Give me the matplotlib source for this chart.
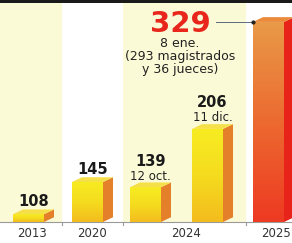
import numpy as np
import matplotlib
matplotlib.use("Agg")
import matplotlib.pyplot as plt
from matplotlib.patches import Polygon, Rectangle
from matplotlib.colors import LinearSegmentedColormap

# data
years = ["2013", "2020", "2024", "2024", "2025"]
values = [108, 145, 139, 206, 329]
notes = ["", "", "12 oct.", "11 dic.", ""]
note_2025 = "8 ene.\n(293 magistrados\ny 36 jueces)"

# layout (pixel-like x units)
bar_left = [13, 72, 130, 192, 253]
bar_w = 31
side_w = 10
rise = 5.5          # top-face rise in data units
base = 99
year_ticks = [32, 92, 186, 276]
year_labels = ["2013", "2020", "2024", "2025"]
bands = [(0, 62, "#fbfad6"), (62, 123, "#ffffff"), (123, 246, "#fbfad6"), (246, 292, "#ffffff")]

fig = plt.figure(figsize=(2.92, 2.43), dpi=100)
ax = fig.add_axes([0, 0, 1, 1])
ax.set_xlim(0, 292)
ax.set_ylim(74.9, 354.2)
ax.axis("off")

# background bands
for x0, x1, c in bands:
    ax.add_patch(Rectangle((x0, base), x1 - x0, 400, color=c, zorder=0, lw=0))
ax.add_patch(Rectangle((0, 350.8), 292, 10, color="#1a1a1a", zorder=5, lw=0))

# baseline + separator ticks
ax.plot([0, 292], [base, base], color="#9a9a9a", lw=0.8, zorder=1)
for x in [62, 123, 246]:
    ax.plot([x, x], [base, base - 3], color="#9a9a9a", lw=0.8, zorder=1)

yellow = LinearSegmentedColormap.from_list("y", ["#f7ec22", "#f5dc1e", "#f3bc1e"])
redc = LinearSegmentedColormap.from_list("r", ["#e99a48", "#ec6a30", "#ee3a22"])

for i, v in enumerate(values):
    x0 = bar_left[i]
    last = i == len(values) - 1
    front = ax.bar(x0, v - base, bottom=base, width=bar_w, align="edge",
                   color="none", lw=0, zorder=2)[0]
    grad = np.linspace(0, 1, 100).reshape(-1, 1)
    im = ax.imshow(grad, cmap=redc if last else yellow, aspect="auto",
                   extent=(x0, x0 + bar_w, base, v), origin="upper", zorder=2)
    im.set_clip_path(front)
    side_c = "#e8241a" if last else "#e4802a"
    top_c = "#ec8a3c" if last else "#f6e04a"
    ax.add_patch(Polygon([(x0 + bar_w, base), (x0 + bar_w + side_w, base + rise),
                          (x0 + bar_w + side_w, v + rise), (x0 + bar_w, v)],
                         closed=True, color=side_c, lw=0, zorder=2))
    ax.add_patch(Polygon([(x0, v), (x0 + bar_w, v), (x0 + bar_w + side_w, v + rise),
                          (x0 + side_w, v + rise)],
                         closed=True, color=top_c, lw=0, zorder=2))
    cx = x0 + bar_w / 2 + side_w / 2
    if last:
        continue
    if notes[i]:
        ax.annotate(notes[i], (cx, v), xytext=(0, 11), textcoords="offset pixels",
                    ha="center", va="center", fontsize=8.5, color="#222222")
        ax.annotate(str(v), (cx, v), xytext=(0, 26), textcoords="offset pixels",
                    ha="center", va="center", fontsize=10.5, fontweight="bold",
                    color="#1a1a1a")
    else:
        ax.annotate(str(v), (cx, v), xytext=(0, 13), textcoords="offset pixels",
                    ha="center", va="center", fontsize=10.5, fontweight="bold",
                    color="#1a1a1a")

# 2025 callout
v = values[-1]
ax.annotate(str(v), (180, v), xytext=(0, -2), textcoords="offset pixels",
            ha="center", va="center", fontsize=21, fontweight="heavy",
            color="#e8261c", zorder=3)
ax.plot([216, bar_left[-1]], [v, v], color="#5a6a80", lw=0.7, zorder=3)
ax.plot([bar_left[-1]], [v], "o", color="#222222", ms=2, zorder=3)
ax.annotate(note_2025, (180, v), xytext=(0, -35), textcoords="offset pixels",
            ha="center", va="center", fontsize=9, color="#222222",
            linespacing=1.0)

# year labels
for x, lab in zip(year_ticks, year_labels):
    ax.annotate(lab, (x, base), xytext=(0, -11), textcoords="offset pixels",
                ha="center", va="center", fontsize=8.5, color="#333333")

fig.savefig("out.png", dpi=100)
